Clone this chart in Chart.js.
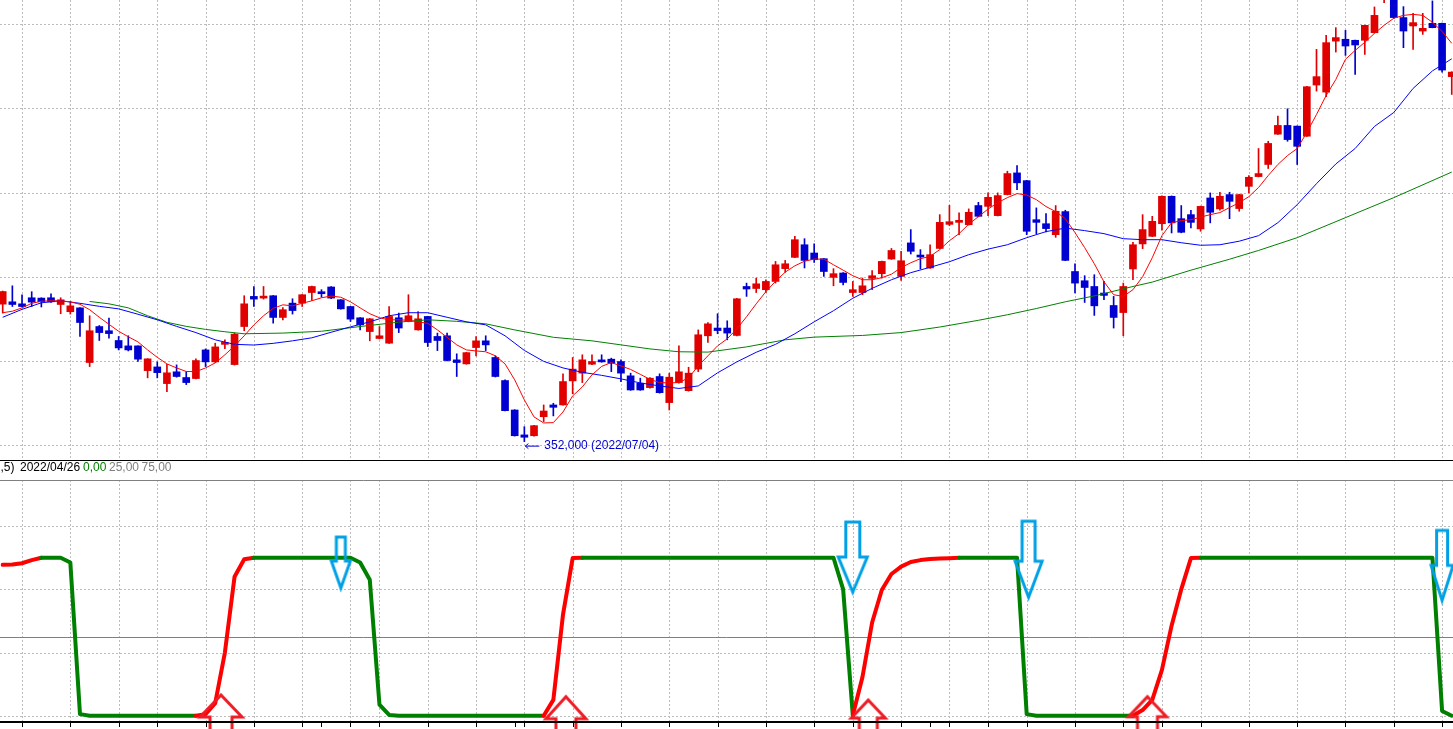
<!DOCTYPE html>
<html>
<head>
<meta charset="utf-8">
<script src="https://cdn.jsdelivr.net/npm/chart.js@4"></script>
<style>
  body { margin: 0; background: #fff; overflow: hidden; }
  #wrap { position: relative; width: 1453px; height: 729px; }
  canvas { position: absolute; left: 0; }
  #top { top: 0; }
  #osc { top: 460px; }
  .lg { position: absolute; top: 461px; font: 12px "Liberation Sans", Arial, sans-serif; line-height: 12px; white-space: pre; }
</style>
</head>
<body>
<div id="wrap">
  <canvas id="top" width="1453" height="462"></canvas>
  <canvas id="osc" width="1453" height="269"></canvas>
  <span class="lg" style="left:0.5px;color:#000">,5)</span>
  <span class="lg" style="left:20px;color:#000">2022/04/26</span>
  <span class="lg" style="left:83px;color:#008000">0,00</span>
  <span class="lg" style="left:109px;color:#808080">25,00</span>
  <span class="lg" style="left:141.5px;color:#808080">75,00</span>
</div>
<script>
// Daily candles, index 0 = 2022/04/14 ... 150
const openP = [433700,435100,433900,437500,437300,437500,433500,429200,431500,399000,
420400,417900,412100,408900,408900,394200,396400,386500,393500,390100,
389500,406500,399400,409800,397800,420400,438300,437300,438700,425800,
434300,434300,440600,440600,443900,436300,432300,425600,417400,413300,
410500,425600,423400,418400,426400,414500,414900,400600,398200,407900,
411900,402000,388300,370800,356000,355500,366800,373800,373800,388100,
392700,398000,400000,401000,399600,391100,386700,384100,390700,375200,
387100,382300,395100,414900,419500,419500,415100,444200,443000,442300,
447200,454800,461500,469000,464100,460700,449600,452200,440600,440600,
449000,451800,460500,450200,470100,462500,455200,466800,481100,482300,
480900,492300,491800,486300,498800,511700,507100,483900,481500,475000,
488700,453100,447600,444200,440300,432900,428700,454600,469500,474000,
481500,497800,484500,486900,478400,496800,490300,498800,490500,503700,
509500,516700,534700,539900,539500,533500,563900,559700,590000,591100,
590500,590500,595000,616000,620000,604000,599000,596000,600600,600600,
568900];
const highP = [441500,444600,439300,441100,437500,439900,437500,435300,431700,426800,
421000,425400,414500,414900,409000,401300,399400,398000,397600,393600,
401200,407100,410500,412500,416500,438700,444200,444200,438800,431700,
436900,439400,444400,442300,444200,436400,432400,425700,425200,420400,
432300,428400,439300,429300,426500,416500,416500,404200,405100,414500,
414900,403000,388700,371000,360900,361700,373800,374800,392300,402000,
403600,403600,403600,401600,400600,392700,389700,390000,392300,392700,
408900,396200,418400,422800,428000,423800,437100,446200,449200,448200,
459100,459700,474000,472600,469600,460900,454800,452400,447200,449200,
453600,459300,466800,465100,478000,466100,469000,486900,492400,487900,
490300,494200,499800,499800,512700,516100,507300,490900,487500,492300,
489500,457700,450600,451200,447200,438300,446200,470400,486900,485900,
498000,498000,492300,489500,492000,499800,500200,500200,499000,510100,
526200,530500,545400,549800,539600,563100,585100,593400,598000,596400,
590600,599500,610300,625000,625000,610500,606500,606500,613900,600700,
571800];
const lowP = [428400,432300,432000,432300,432000,434700,428000,427800,414500,396600,
412100,413500,406500,405900,399600,389900,389900,381700,390300,385900,
389300,396600,399000,407300,397500,417900,432300,436700,422400,424400,
427800,432300,435900,437900,437000,430700,423400,418400,411900,413000,
410300,416800,423200,418200,408500,406100,400000,390700,398000,403000,
406100,390400,370200,355300,352000,355300,363900,367300,373600,380400,
387100,397800,399200,393600,387700,382500,382500,383800,380800,370800,
386800,382000,393600,410900,416100,412500,414800,438300,440600,440600,
446200,452600,461300,455200,458500,450200,444600,445200,438300,439300,
442300,449200,460300,447800,463500,454600,454900,466600,480300,475000,
480700,485600,486300,486100,498600,501800,475000,475600,476600,473400,
459500,440300,434700,427000,436300,419500,414900,448200,466700,473800,
477600,476000,476100,479000,477000,482000,489500,484500,488900,499800,
509300,514300,534500,530500,516700,533300,560300,557000,583500,581500,
570200,582100,594800,612900,603500,586100,585100,594000,597900,571600,
558300];
const closeP = [441200,433500,432300,434900,435100,435100,436300,432700,422800,417900,
416800,416200,407700,406500,401000,401200,393000,392900,390700,387100,
400200,399400,408300,410300,415900,433900,436700,438300,425800,430400,
429900,439300,444200,439900,437300,430900,424800,421400,425000,414900,
426400,419500,426800,425000,410900,412100,400200,399000,404900,411900,
409500,390700,370400,355500,354600,361500,370200,372400,387700,395100,
400600,399600,399400,398600,392700,382700,382700,389700,381100,390300,
393500,392700,415500,422000,418000,416500,436900,442700,445800,447200,
457100,457700,472000,459700,460100,453100,451800,446600,442300,444600,
450600,459100,465600,459500,465100,461700,463100,482300,482700,483500,
488300,485900,497200,498200,511300,505800,477000,482300,478600,488900,
459700,446200,443600,432700,438900,425800,444200,469000,478000,482900,
497800,482000,476400,482300,491800,488300,497800,494800,498800,509100,
511300,529200,539900,531500,527500,562900,568900,589100,592100,587100,
587700,599400,605300,622000,604000,596000,601000,597600,598000,572800,
571600];

// moving averages
const ma5 = [428600,429500,431500,434200,435400,435700,435600,435100,433600,430400,
425900,421700,417600,414300,411300,406500,402100,398200,395800,393700,
393600,395800,398800,403600,408900,414900,421400,426800,431200,433300,
432700,434200,435700,437500,438500,437800,435100,431500,428000,425600,
424400,424400,424100,423200,422300,418400,414000,409500,406500,405900,
405400,403000,398200,388700,376800,366700,363100,363300,369600,379200,
384500,391700,396700,399000,397000,394900,392000,389000,387100,386900,
387100,389900,397000,403000,408900,413100,419000,426200,433900,441100,
447300,452700,456500,459200,460500,460400,457100,453900,450600,448200,
448200,449400,451500,455400,458300,460700,462100,466100,471400,475600,
481200,485700,490200,494000,497000,499400,498500,495800,491700,488700,
484500,476200,467300,457700,447000,439300,438300,442300,450000,461300,
474400,482100,483300,483900,485400,486900,488100,491100,494000,497600,
503000,510100,516700,522000,526200,535700,546400,557700,567200,579200,
584500,589300,594600,599400,603600,605300,605900,605300,601200,595800,
588700];
const ma20Idx = [0,2,4,6,8,10,12,14,16,18,20,22,24,26,28,30,32,34,36,38,
40,42,44,46,48,50,52,54,56,58,60,62,64,66,68,70,72,74,76,78,
80,82,84,86,88,90,92,94,96,98,100,102,104,106,108,110,112,114,116,118,
120,122,124,126,128,130,132,134,136,138,140,142,144,146,148,150];
const ma20 = [425900,430600,434500,435700,434200,432400,430900,427700,424400,420500,
416800,412500,409800,409400,410400,411900,413700,417000,420200,423200,
426800,428600,428600,425900,423200,421400,414900,406200,399700,395800,
393200,391400,389300,386900,385100,383600,385100,392900,399400,405100,
409800,416100,423200,429800,437200,443100,448200,452400,455600,458900,
463100,466400,469000,473200,476800,478900,477400,475600,472600,472000,
472000,470200,468700,469000,471100,474400,482100,492800,505300,517000,
526200,539300,547600,561900,572300,579500];
const ma60Idx = [9,11,13,15,17,19,21,23,25,29,33,37,41,44,47,50,53,57,61,64,
67,70,73,77,81,84,89,93,97,101,104,107,110,113,117,119,123,127,130,134,139,144,150];
const ma60 = [435300,433900,431500,426800,422900,420500,418700,417300,416100,416500,
417600,420400,423000,424400,423500,422000,418400,414000,411900,409500,
407100,405400,405200,408300,412500,414100,415100,416800,420100,424100,
427400,431100,435100,438600,444200,446800,453900,460400,465600,473200,
485100,497000,512200];

const priceTicks = [350000, 400000, 450000, 500000, 550000, 600000];
const gridIdx = [2,7,12,16,21,26,31,36,39,44,49,54,59,64,69,74,79,84,88,93,98,102,106,111,116,120,124,129,134,139,144,149];
const monthIdx = [33, 53, 96];
const lowIdx = 54, lowVal = 352000, lowLabel = '352,000 (2022/07/04)';

// lower oscillator
const osc = [95.5,95.7,96.5,98.5,100,100,100,97,1,0,
0,0,0,0,0,0,0,0,0,0,
0,1,8,40,88,99,100,100,100,100,
100,100,100,100,100,100,100,97,86,7,
0.5,0,0,0,0,0,0,0,0,0,
0,0,0,0,0,0,0,10,64,99.8,
100,100,100,100,100,100,100,100,100,100,
100,100,100,100,100,100,100,100,100,100,
100,100,100,100,100,100,100,80,0.3,24.5,
59,79.6,89.7,94.4,97.3,98.5,99.2,99.5,99.7,100,
100,100,100,100,100,100,1,0,0,0,
0,0,0,0,0,0,0,0,3.6,10,
29,57,80,99.8,100,100,100,100,100,100,
100,100,100,100,100,100,100,100,100,100,
100,100,100,100,100,100,100,100,100,3,
0];
const oscTicks = [0, 40, 80, 120];
const oscMid = 50;
const sellX = [35.0, 88.0, 106.2, 149.0];
const sellY = [80.8, 78.3, 75, 73];
const buyX = [22.6, 58.3, 89.6, 118.5];
const buyY = [13.1, 12, 9.9, 12];

const UP = '#e00000', DOWN = '#0000d0';
const GRID = '#bcbcbc';
const xMin = -0.28, xMax = 150.13;

const candleCol = openP.map((o, i) => closeP[i] >= o ? UP : DOWN);

// dashed grid + axis lines drawn from the chart's own scales
function panelGrid(hTicks, opts) {
  return {
    id: 'panelGrid',
    beforeDatasetsDraw(chart) {
      const { ctx, chartArea: a, scales: { x, y } } = chart;
      ctx.save();
      ctx.lineWidth = 1;
      ctx.strokeStyle = GRID;
      ctx.setLineDash([2, 2]);
      ctx.beginPath();
      gridIdx.forEach(v => {
        const px = Math.round(x.getPixelForValue(v)) + 0.5;
        ctx.moveTo(px, a.top); ctx.lineTo(px, a.bottom);
      });
      hTicks.forEach(v => {
        const py = Math.round(y.getPixelForValue(v)) + 0.5;
        ctx.moveTo(a.left, py); ctx.lineTo(a.right, py);
      });
      ctx.stroke();
      ctx.setLineDash([]);
      if (opts.refs) {
        ctx.strokeStyle = '#808080';
        ctx.beginPath();
        opts.refs(chart).forEach(py => { ctx.moveTo(a.left, py); ctx.lineTo(a.right, py); });
        ctx.stroke();
      }
      ctx.restore();
    },
    afterDraw(chart) {
      const { ctx, chartArea: a, scales: { x } } = chart;
      ctx.save();
      ctx.fillStyle = '#000';
      const yb = Math.round(a.bottom);
      ctx.fillRect(a.left, yb, a.right - a.left, opts.axisWidth);
      if (opts.ticks) {
        gridIdx.concat(monthIdx).forEach(v => {
          const px = Math.round(x.getPixelForValue(v));
          ctx.fillRect(px, yb + opts.axisWidth, 1, 4);
        });
      }
      ctx.restore();
    }
  };
}

new Chart(document.getElementById('top'), {
  type: 'bar',
  data: {
    datasets: [
      { type: 'line', data: ma5.map((v, i) => ({ x: i, y: v })), borderColor: '#ff0000', borderWidth: 1, pointRadius: 0, order: 0 },
      { type: 'line', data: ma20.map((v, i) => ({ x: ma20Idx[i], y: v })), borderColor: '#0000ff', borderWidth: 1, pointRadius: 0, order: 0 },
      { type: 'line', data: ma60.map((v, i) => ({ x: ma60Idx[i], y: v })), borderColor: '#008000', borderWidth: 1, pointRadius: 0, order: 0 },
      { data: openP.map((o, i) => ({ x: i, y: [o, closeP[i]] })), backgroundColor: candleCol, barThickness: 7, minBarLength: 2, grouped: false, order: 1 },
      { data: lowP.map((l, i) => ({ x: i, y: [l, highP[i]] })), backgroundColor: candleCol, barThickness: 1, grouped: false, order: 2 }
    ]
  },
  options: {
    responsive: false, animation: false, devicePixelRatio: 1,
    layout: { autoPadding: false, padding: { left: 0, right: 0, top: 0, bottom: 2 } },
    plugins: { legend: { display: false }, tooltip: { enabled: false } },
    scales: {
      x: { type: 'linear', min: xMin, max: xMax, offset: false, display: false },
      y: { min: 341086, max: 614440, display: false }
    }
  },
  plugins: [panelGrid(priceTicks, { axisWidth: 1, ticks: false }), {
    id: 'lowNote',
    afterDatasetsDraw(chart) {
      const { ctx, scales: { x, y } } = chart;
      const px = x.getPixelForValue(lowIdx), py = y.getPixelForValue(lowVal);
      ctx.save();
      ctx.strokeStyle = '#0000cc';
      ctx.lineWidth = 1;
      ctx.beginPath();
      ctx.moveTo(px + 1, py + 4.5); ctx.lineTo(px + 15, py + 4.5);
      ctx.moveTo(px + 1, py + 4.5); ctx.lineTo(px + 4, py + 2);
      ctx.moveTo(px + 1, py + 4.5); ctx.lineTo(px + 4, py + 7);
      ctx.stroke();
      ctx.fillStyle = '#0000cc';
      ctx.font = '12px "Liberation Sans", Arial, sans-serif';
      ctx.fillText(lowLabel, px + 20, py + 7.5);
      ctx.restore();
    }
  }]
});

function arrowImg(up, s, color) {
  const lw = 3, tot = s.sh + s.hh;
  const c = document.createElement('canvas');
  c.width = Math.ceil(s.w + lw * 2 + 2);
  c.height = Math.ceil(tot + lw + 2) * 2;
  const g = c.getContext('2d');
  const cx = c.width / 2, cy = c.height / 2, d = up ? 1 : -1;
  g.beginPath();
  g.moveTo(cx, cy);
  g.lineTo(cx + s.w / 2, cy + d * s.hh);
  g.lineTo(cx + s.sw / 2, cy + d * s.hh);
  g.lineTo(cx + s.sw / 2, cy + d * tot);
  g.lineTo(cx - s.sw / 2, cy + d * tot);
  g.lineTo(cx - s.sw / 2, cy + d * s.hh);
  g.lineTo(cx - s.w / 2, cy + d * s.hh);
  g.closePath();
  g.lineWidth = lw;
  g.strokeStyle = color;
  g.stroke();
  return c;
}
const sellShapes = [{ w: 19, sw: 9, sh: 24, hh: 27 }, { w: 29, sw: 14, sh: 35, hh: 35 }, { w: 27, sw: 13, sh: 40, hh: 36 }, { w: 22, sw: 11, sh: 35, hh: 35 }];
const buyShapes = [{ w: 42, sw: 22, sh: 30, hh: 22 }, { w: 40, sw: 20, sh: 30, hh: 22 }, { w: 34, sw: 18, sh: 30, hh: 18 }, { w: 38, sw: 20, sh: 30, hh: 20 }];

new Chart(document.getElementById('osc'), {
  type: 'line',
  data: {
    datasets: [
      {
        data: sellX.map((v, i) => ({ x: v, y: sellY[i] })), showLine: false, clip: false,
        pointStyle: sellShapes.map(s => arrowImg(false, s, '#00a0e6')), pointRadius: 10, order: 0
      },
      {
        data: buyX.map((v, i) => ({ x: v, y: buyY[i] })), showLine: false, clip: false,
        pointStyle: buyShapes.map(s => arrowImg(true, s, '#ee1c25')), pointRadius: 10, order: 0
      },
      {
        data: osc.map((v, i) => ({ x: i, y: v })), borderWidth: 4, pointRadius: 0,
        borderColor: '#008000', borderJoinStyle: 'round', borderCapStyle: 'round',
        segment: { borderColor: c => c.p1.parsed.y > c.p0.parsed.y ? '#ff0000' : '#008000' },
        order: 1
      }
    ]
  },
  options: {
    responsive: false, animation: false, devicePixelRatio: 1,
    layout: { autoPadding: false, padding: { left: 0, right: 0, top: 20, bottom: 8 } },
    plugins: { legend: { display: false }, tooltip: { enabled: false } },
    scales: {
      x: { type: 'linear', min: xMin, max: xMax, display: false },
      y: { min: -3.35, max: 149.2, display: false }
    }
  },
  plugins: [panelGrid(oscTicks, {
    axisWidth: 2, ticks: true,
    refs: chart => [Math.round(chart.chartArea.top) + 0.5, Math.round(chart.scales.y.getPixelForValue(oscMid)) + 0.5]
  })]
});
</script>
</body>
</html>
